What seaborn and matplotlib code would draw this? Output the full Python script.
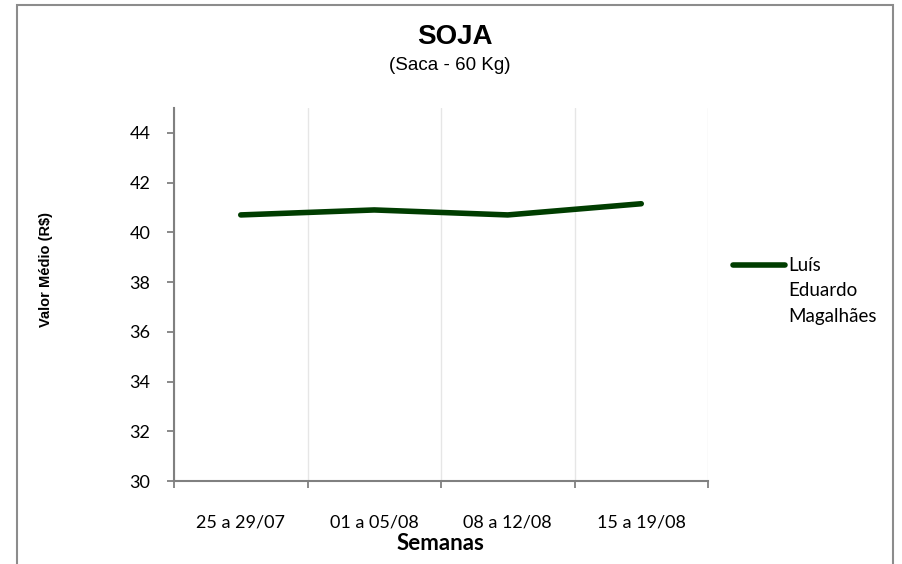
import pandas as pd
import matplotlib.pyplot as plt
import seaborn as sns
from matplotlib.patches import Rectangle

semanas = ['25 a 29/07', '01 a 05/08', '08 a 12/08', '15 a 19/08']
valores = [40.7, 40.9, 40.7, 41.15]
serie = 'Luís\nEduardo\nMagalhães'

df = pd.DataFrame({'semana': semanas, 'valor': valores, 'praca': serie})

sns.set_theme(style='white')
plt.rcParams['font.family'] = ['Liberation Sans', 'DejaVu Sans']
plt.rcParams['text.color'] = 'black'

fig = plt.figure(figsize=(9.03, 5.64), dpi=100)
ax = fig.add_axes([174 / 903, 1 - 481 / 564, (708 - 174) / 903, (481 - 108) / 564])

# moldura externa do gráfico
fig.patches.append(Rectangle((17 / 903, -0.05), (893 - 17) / 903, 1.05 - 5 / 564,
                             transform=fig.transFigure, fill=False,
                             edgecolor='#8c8c8c', linewidth=1.5))

sns.lineplot(data=df, x='semana', y='valor', hue='praca', palette=['#003d00'],
             linewidth=4, ax=ax, solid_capstyle='round')

ax.set_ylim(30, 45)
ax.set_yticks(range(30, 45, 2))
ax.set_xlim(-0.5, 3.5)
ax.set_xticks(range(len(semanas)))
ax.set_xticklabels(semanas)
ax.set_xticks([-0.5, 0.5, 1.5, 2.5, 3.5], minor=True)

ax.tick_params(axis='x', which='major', length=0, pad=24, labelsize=13,
               labelcolor='black')
ax.tick_params(axis='x', which='minor', length=5, width=1.3, color='#808080',
               bottom=True, direction='out')
ax.tick_params(axis='y', length=5, width=1.3, color='#808080', left=True,
               direction='out', pad=12, labelsize=13, labelcolor='black')
for lbl in ax.get_xticklabels() + ax.get_yticklabels():
    lbl.set_family(['Lato', 'DejaVu Sans'])

ax.grid(False)
ax.grid(axis='x', which='minor', color='#e6e6e6', linewidth=1)
for side in ['top', 'right']:
    ax.spines[side].set_visible(False)
for side in ['left', 'bottom']:
    ax.spines[side].set_color('#808080')
    ax.spines[side].set_linewidth(1.5)

ax.set_xlabel('Semanas', fontsize=16, fontweight='bold', color='black',
              family=['Lato', 'DejaVu Sans'])
ax.xaxis.set_label_coords((440 - 174) / 534, -(533 - 481) / 373)
ax.set_ylabel('Valor Médio (R$)', fontsize=10.5, fontweight='bold', color='black')
ax.yaxis.set_label_coords(-(174 - 53) / 534, (481 - 270) / 373)

fig.text(455 / 903, 1 - 37 / 564, 'SOJA', ha='center', va='center',
         fontsize=20, fontweight='bold')
fig.text(450 / 903, 1 - 66 / 564, '(Saca - 60 Kg)', ha='center', va='center',
         fontsize=13.5)

fs_leg = 13.5
leg = ax.legend(loc='center left', bbox_to_anchor=(1.015, (481 - 291) / 373),
                frameon=False, handlelength=2.8, handletextpad=0.15,
                fontsize=fs_leg)
for t in leg.get_texts():
    t.set_family(['Lato', 'DejaVu Sans'])
    t.set_linespacing(1.6)
# a linha da legenda fica alinhada com a primeira linha do texto
for h in leg.get_lines():
    y = h.get_ydata()
    h.set_ydata([v + 26 * 72 / 100 for v in y])

fig.savefig('out.png', dpi=100)
